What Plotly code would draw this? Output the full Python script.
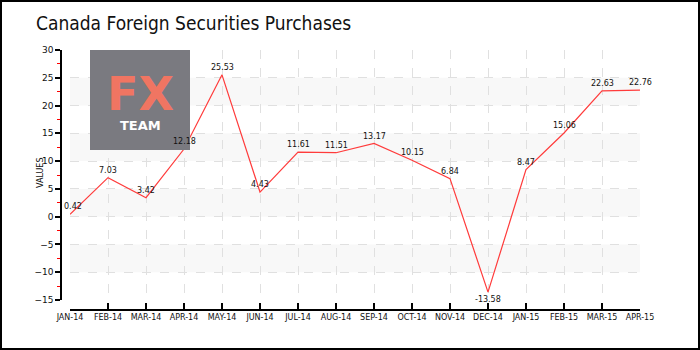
import plotly.graph_objects as go

months = ["JAN-14", "FEB-14", "MAR-14", "APR-14", "MAY-14", "JUN-14", "JUL-14", "AUG-14",
          "SEP-14", "OCT-14", "NOV-14", "DEC-14", "JAN-15", "FEB-15", "MAR-15", "APR-15"]
values = [0.42, 7.03, 3.42, 12.18, 25.53, 4.43, 11.61, 11.51, 13.17, 10.15, 6.84, -13.58,
          8.47, 15.06, 22.63, 22.76]
labels = ["0.42", "7.03", "3.42", "12.18", "25.53", "4.43", "11.61", "11.51", "13.17", "10.15",
          "6.84", "-13.58", "8.47", "15.06", "22.63", "22.76"]
y_ticks = [-15, -10, -5, 0, 5, 10, 15, 20, 25, 30]
bands = [(-10, -5), (0, 5), (10, 15), (20, 25)]

W, H = 700, 350
ml, mr, mt, mb = 61, 60, 50, 40
pw = W - ml - mr
ph = H - mt - mb

FONT = "DejaVu Sans"
TITLE_FONT = "DejaVu Sans Condensed, Liberation Sans Narrow, Roboto"

fig = go.Figure()
fig.add_trace(go.Scatter(
    x=months, y=values, mode="lines",
    line=dict(color="#ff3b3b", width=1.2), hoverinfo="skip",
))

shapes = []
for lo, hi in bands:
    shapes.append(dict(type="rect", xref="x domain", yref="y", x0=0, x1=1, y0=lo, y1=hi,
                       fillcolor="#f8f8f8", line=dict(width=0), layer="below"))
# outer border
shapes.append(dict(type="rect", xref="paper", yref="paper",
                   x0=(-ml + 1) / pw, x1=(W - ml - 1) / pw,
                   y0=-(mb - 1) / ph, y1=1 + (mt - 1) / ph,
                   line=dict(color="#000000", width=2), fillcolor="rgba(0,0,0,0)"))
# logo box
shapes.append(dict(type="rect", xref="paper", yref="paper",
                   x0=(90 - ml) / pw, x1=(190 - ml) / pw,
                   y0=(H - mb - 150) / ph, y1=(H - mb - 50) / ph,
                   fillcolor="#7a7a80", line=dict(width=0), layer="above"))

annotations = [
    dict(text="Canada Foreign Securities Purchases", xref="paper", yref="paper",
         x=(34 - ml) / pw, y=(H - mb - 23) / ph, xanchor="left", yanchor="middle",
         showarrow=False, font=dict(family=TITLE_FONT, size=19, color="#111111")),
    dict(text="VALUES", xref="paper", yref="paper", x=(40 - ml) / pw, y=(H - mb - 173) / ph,
         xanchor="center", yanchor="middle",
         textangle=-90, showarrow=False, font=dict(family=FONT, size=8, color="#111111")),
    dict(text="<b>FX</b>", xref="paper", yref="paper", x=(140 - ml) / pw, y=(H - mb - 94) / ph,
         xanchor="center", yanchor="middle",
         showarrow=False, font=dict(family=FONT, size=46, color="#f07562")),
    dict(text="<b>TEAM</b>", xref="paper", yref="paper", x=(140 - ml) / pw, y=(H - mb - 125) / ph,
         xanchor="center", yanchor="middle",
         showarrow=False, font=dict(family=FONT, size=13, color="#ffffff")),
]
# data labels (drawn above the logo, as in the reference)
for i, (m, v, t) in enumerate(zip(months, values, labels)):
    annotations.append(dict(
        text=t, x=m, y=v, xref="x", yref="y", showarrow=False,
        xanchor="left" if i == 0 else "center",
        yanchor="top" if v < 0 else "bottom",
        yshift=-1 if v < 0 else 1,
        xshift=-8 if i == 0 else 0,
        font=dict(family=FONT, size=8, color="#111111"),
    ))

fig.update_layout(
    width=W, height=H,
    margin=dict(l=ml, r=mr, t=mt, b=mb, pad=0),
    paper_bgcolor="#ffffff", plot_bgcolor="#ffffff",
    showlegend=False,
    shapes=shapes, annotations=annotations,
    xaxis=dict(
        type="category", range=[0, len(months) - 1], domain=[(70 - ml) / pw, 1],
        anchor="free", position=0,
        showline=True, linecolor="#000000", linewidth=1.5,
        ticks="inside", ticklen=6, tickcolor="#000000", tickwidth=1.5,
        showgrid=True, gridcolor="#e0e0e0", griddash="dash", gridwidth=1,
        tickfont=dict(family=FONT, size=8, color="#111111"),
        zeroline=False, fixedrange=True,
    ),
    yaxis=dict(
        range=[-15, 30], domain=[10 / ph, 1],
        anchor="free", position=0,
        tickvals=y_ticks,
        showline=True, linecolor="#000000", linewidth=1.5,
        ticks="outside", ticklen=5, tickcolor="#000000", tickwidth=1.5,
        minor=dict(dtick=2.5, tick0=0, ticks="outside", ticklen=3, tickcolor="#ff0000",
                   tickwidth=1, showgrid=False),
        showgrid=True, gridcolor="#e0e0e0", griddash="dash", gridwidth=1,
        tickfont=dict(family=FONT, size=9, color="#111111"),
        zeroline=False, fixedrange=True,
    ),
)

fig.write_html("out.html")
